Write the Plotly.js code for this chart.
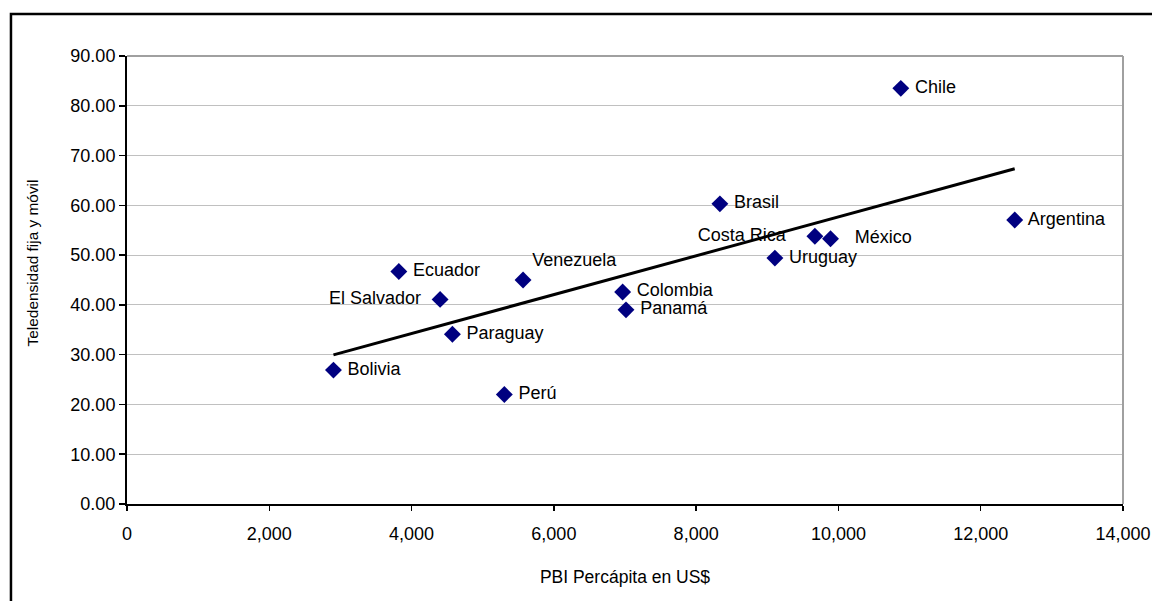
<!DOCTYPE html>
<html>
<head>
<meta charset="utf-8">
<script src="https://cdn.plot.ly/plotly-3.0.1.min.js"></script>
<style>html,body{margin:0;padding:0;background:#fff;}#chart{width:1152px;height:601px;}</style>
</head>
<body>
<div id="chart"></div>
<script>
var countries = ["Bolivia","Ecuador","El Salvador","Paraguay","Perú","Venezuela","Colombia","Panamá","Brasil","Uruguay","Costa Rica","México","Chile","Argentina"];
var gdpPerCapita = [2902, 3821, 4401, 4574, 5304, 5567, 6967, 7014, 8334, 9107, 9669, 9889, 10877, 12478];
var teledensity = [26.9, 46.7, 41.1, 34.1, 22.0, 45.0, 42.6, 39.0, 60.3, 49.4, 53.8, 53.3, 83.5, 57.05];
var labelPositions = ["middle right","middle right","middle left","middle right","middle right","top right","middle right","middle right","middle right","middle right","middle left","middle right","middle right","middle right"];
var labelTexts = [" Bolivia"," Ecuador","El Salvador  "," Paraguay"," Perú","Venezuela"," Colombia"," Panamá"," Brasil"," Uruguay","Costa Rica    ","   México"," Chile"," Argentina"];
var xTitle = "PBI Percápita en US$";
var yTitle = "Teledensidad fija y móvil";

// least-squares trend line
var n = gdpPerCapita.length, mx = 0, my = 0;
for (var i = 0; i < n; i++) { mx += gdpPerCapita[i]; my += teledensity[i]; }
mx /= n; my /= n;
var sxy = 0, sxx = 0;
for (var i = 0; i < n; i++) { sxy += (gdpPerCapita[i]-mx)*(teledensity[i]-my); sxx += (gdpPerCapita[i]-mx)*(gdpPerCapita[i]-mx); }
var slope = sxy/sxx, intercept = my - slope*mx;
var xmin = Math.min.apply(null, gdpPerCapita), xmax = Math.max.apply(null, gdpPerCapita);

var font = "Liberation Sans, Arial, sans-serif";
var traces = [
  {x: [xmin, xmax], y: [intercept + slope*xmin, intercept + slope*xmax], mode: "lines",
   line: {color: "#000", width: 3}, hoverinfo: "skip", showlegend: false},
  {x: gdpPerCapita, y: teledensity, mode: "markers+text", text: labelTexts, textposition: labelPositions,
   textfont: {family: font, size: 18, color: "#000"},
   marker: {symbol: "diamond", size: 13, color: "#000080"}, showlegend: false, cliponaxis: false}
];
var layout = {
  width: 1152, height: 601,
  margin: {l: 127, r: 29, t: 56, b: 97},
  paper_bgcolor: "#fff", plot_bgcolor: "#fff",
  font: {family: font, color: "#000", size: 18},
  xaxis: {range: [0, 14000], dtick: 2000, tick0: 0, tickformat: ",.0f", showgrid: false, zeroline: false,
          showline: true, linecolor: "#000", linewidth: 2, ticks: "outside", ticklen: 5, tickcolor: "#000", tickwidth: 1.5,
          tickfont: {family: font, size: 18}, ticklabelstandoff: 7,
          title: {text: xTitle, font: {family: font, size: 17.5}, standoff: 28}},
  yaxis: {range: [0, 90], dtick: 10, tick0: 0, tickformat: ".2f", showgrid: true, gridcolor: "#c0c0c0", gridwidth: 1.2, zeroline: false,
          showline: true, linecolor: "#000", linewidth: 2, ticks: "outside", ticklen: 6, tickcolor: "#000", tickwidth: 1.5,
          tickfont: {family: font, size: 18}},
  annotations: [
    {text: yTitle, textangle: -90, xref: "paper", yref: "paper", x: -0.0945, y: 0.539,
     xanchor: "center", yanchor: "middle", showarrow: false, font: {family: font, size: 15.4, color: "#000"}}
  ],
  shapes: [
    {type: "line", xref: "paper", yref: "paper", x0: 1, x1: 1, y0: 0, y1: 1, line: {color: "#a0a0a0", width: 2}},
    {type: "line", xref: "paper", yref: "paper", x0: 0, x1: 1, y0: 1, y1: 1, line: {color: "#a0a0a0", width: 2}},
    {type: "rect", xref: "paper", yref: "paper", x0: -0.1165, x1: 1.2, y0: -0.5, y1: 1.094, line: {color: "#000", width: 2.5}}
  ]
};
Plotly.newPlot("chart", traces, layout, {displayModeBar: false, staticPlot: true});
</script>
</body>
</html>
